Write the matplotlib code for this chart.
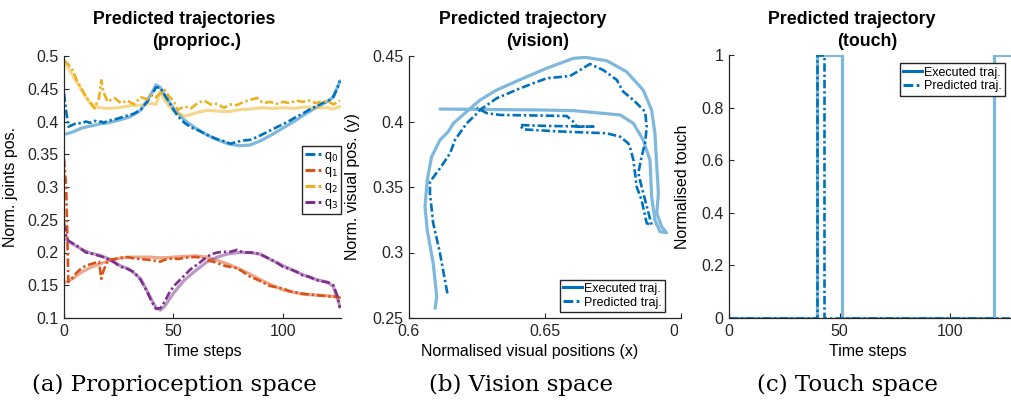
import numpy as np
import matplotlib.pyplot as plt
from matplotlib.lines import Line2D
from matplotlib.transforms import Bbox, TransformedBbox

plt.rcParams['font.family'] = ['Liberation Sans', 'DejaVu Sans']
plt.rcParams['font.size'] = 11.5
plt.rcParams['axes.edgecolor'] = '#262626'
plt.rcParams['xtick.color'] = '#262626'
plt.rcParams['ytick.color'] = '#262626'

# MATLAB default colours
blue = '#0072BD'
orange = '#D95319'
yellow = '#EDB120'
purple = '#7E2F8E'

# ---- proprioception (time steps) ----
t_pred = [0, 1, 2, 4, 6, 8, 10, 12, 14, 16, 17, 18, 20, 23, 26, 29, 32, 35, 38, 40,
          42, 44, 46, 48, 50, 52, 55, 58, 61, 64, 67, 70, 73, 76, 79, 82, 85, 88,
          91, 94, 97, 100, 103, 106, 109, 112, 115, 118, 121, 123, 125, 126]
t_exec = [1, 4, 8, 12, 16, 20, 25, 30, 35, 40, 42, 44, 46, 50, 55, 60, 65, 70, 75,
          80, 85, 90, 95, 100, 105, 110, 115, 120, 123, 126]

q0_pred = [0.443, 0.415, 0.392, 0.395, 0.398, 0.397, 0.400, 0.398, 0.401, 0.399, 0.400,
           0.398, 0.401, 0.403, 0.406, 0.409, 0.412, 0.418, 0.430, 0.440, 0.452, 0.452,
           0.440, 0.430, 0.418, 0.408, 0.398, 0.391, 0.387, 0.382, 0.377, 0.373, 0.370,
           0.366, 0.369, 0.371, 0.372, 0.376, 0.381, 0.386, 0.391, 0.396, 0.401, 0.407,
           0.412, 0.418, 0.423, 0.428, 0.432, 0.438, 0.452, 0.462]
q1_pred = [0.343, 0.300, 0.155, 0.162, 0.170, 0.176, 0.180, 0.182, 0.184, 0.186, 0.160,
           0.172, 0.188, 0.190, 0.192, 0.193, 0.191, 0.190, 0.189, 0.188, 0.187, 0.186,
           0.189, 0.190, 0.191, 0.190, 0.192, 0.193, 0.193, 0.190, 0.187, 0.184, 0.180,
           0.178, 0.176, 0.170, 0.163, 0.159, 0.154, 0.149, 0.147, 0.145, 0.141, 0.139,
           0.137, 0.136, 0.135, 0.134, 0.133, 0.133, 0.132, 0.130]
q2_pred = [0.493, 0.490, 0.487, 0.478, 0.462, 0.450, 0.438, 0.428, 0.420, 0.436, 0.463,
           0.445, 0.430, 0.436, 0.428, 0.432, 0.426, 0.437, 0.434, 0.440, 0.437, 0.443,
           0.448, 0.438, 0.432, 0.418, 0.423, 0.420, 0.428, 0.432, 0.426, 0.427, 0.421,
           0.426, 0.425, 0.430, 0.433, 0.436, 0.428, 0.430, 0.427, 0.430, 0.428, 0.432,
           0.430, 0.432, 0.428, 0.431, 0.430, 0.426, 0.430, 0.432]
q3_pred = [0.245, 0.225, 0.218, 0.214, 0.210, 0.205, 0.200, 0.199, 0.197, 0.195, 0.194,
           0.193, 0.190, 0.185, 0.178, 0.175, 0.170, 0.158, 0.140, 0.125, 0.114, 0.115,
           0.125, 0.138, 0.148, 0.155, 0.165, 0.175, 0.182, 0.190, 0.197, 0.200, 0.201,
           0.201, 0.204, 0.200, 0.200, 0.199, 0.195, 0.190, 0.185, 0.178, 0.175, 0.171,
           0.165, 0.163, 0.158, 0.156, 0.154, 0.150, 0.132, 0.115]

q0_exec = [0.381, 0.384, 0.390, 0.393, 0.396, 0.398, 0.402, 0.407, 0.417, 0.443, 0.456,
           0.452, 0.440, 0.420, 0.402, 0.390, 0.380, 0.372, 0.366, 0.363, 0.364, 0.371,
           0.380, 0.390, 0.400, 0.411, 0.421, 0.430, 0.437, 0.462]
q1_exec = [0.155, 0.160, 0.170, 0.177, 0.182, 0.187, 0.191, 0.193, 0.193, 0.193, 0.192,
           0.192, 0.192, 0.193, 0.194, 0.195, 0.193, 0.188, 0.182, 0.175, 0.167, 0.158,
           0.150, 0.143, 0.139, 0.136, 0.135, 0.134, 0.133, 0.131]
q2_exec = [0.487, 0.470, 0.448, 0.428, 0.421, 0.420, 0.421, 0.424, 0.425, 0.428, 0.426,
           0.446, 0.432, 0.416, 0.408, 0.413, 0.417, 0.416, 0.415, 0.418, 0.419, 0.421,
           0.420, 0.421, 0.420, 0.422, 0.421, 0.421, 0.419, 0.423]
q3_exec = [0.220, 0.213, 0.205, 0.199, 0.196, 0.191, 0.181, 0.174, 0.160, 0.128, 0.116,
           0.112, 0.118, 0.138, 0.158, 0.172, 0.185, 0.193, 0.198, 0.200, 0.200, 0.197,
           0.188, 0.180, 0.172, 0.165, 0.159, 0.155, 0.148, 0.118]

# ---- vision (x, y) ----
vis_exec_x = [0.6096, 0.6102, 0.6089, 0.6067, 0.6059, 0.6067, 0.6083, 0.6114, 0.6144,
              0.6163, 0.6212, 0.6261, 0.6322, 0.6420, 0.6506, 0.6604, 0.6647, 0.6727,
              0.6800, 0.6861, 0.6892, 0.6904, 0.6911, 0.6917, 0.6911, 0.6929, 0.6947,
              0.6923, 0.6904, 0.6892, 0.6886, 0.6861, 0.6825, 0.6776, 0.6604, 0.6482,
              0.6114]
vis_exec_y = [0.2574, 0.2663, 0.2918, 0.3172, 0.3350, 0.3553, 0.3731, 0.3859, 0.3922,
              0.3986, 0.4075, 0.4164, 0.4240, 0.4330, 0.4406, 0.4482, 0.4490, 0.4464,
              0.4380, 0.4240, 0.4088, 0.3912, 0.3655, 0.3452, 0.3299, 0.3197, 0.3151,
              0.3159, 0.3248, 0.3426, 0.3706, 0.3859, 0.3986, 0.4050, 0.4083, 0.4088,
              0.4095]
vis_pred_x = [0.6141, 0.6114, 0.6089, 0.6077, 0.6077, 0.6114, 0.6151, 0.6169, 0.6212,
              0.6249, 0.6261, 0.6322, 0.6408, 0.6506, 0.6592, 0.6629, 0.6665, 0.6714,
              0.6764, 0.6788, 0.6825, 0.6868, 0.6874, 0.6868, 0.6855, 0.6843, 0.6849,
              0.6868, 0.6892, 0.6874, 0.6855, 0.6837, 0.6825, 0.6812, 0.6806, 0.6776,
              0.6727, 0.6543, 0.6420, 0.6408, 0.6506, 0.6678, 0.6617, 0.6604, 0.6580,
              0.6335, 0.6286, 0.6249]
vis_pred_y = [0.2688, 0.2994, 0.3223, 0.3452, 0.3540, 0.3643, 0.3757, 0.3859, 0.3986,
              0.4060, 0.4088, 0.4177, 0.4253, 0.4330, 0.4347, 0.4393, 0.4439, 0.4393,
              0.4317, 0.4227, 0.4164, 0.4075, 0.3960, 0.3834, 0.3731, 0.3605, 0.3553,
              0.3401, 0.3210, 0.3223, 0.3401, 0.3502, 0.3706, 0.3808, 0.3834, 0.3884,
              0.3910, 0.3925, 0.3940, 0.3973, 0.3966, 0.3961, 0.3960, 0.3999, 0.4042,
              0.4050, 0.4063, 0.4106]

# ---- touch (step transitions) ----
touch_exec_t = [0, 40, 40, 51, 51, 120, 120, 128]
touch_exec_v = [0, 0, 1, 1, 0, 0, 1, 1]
touch_pred_t = [0, 40, 40, 43, 43, 128, 128]
touch_pred_v = [0, 0, 1, 1, 0, 0, 1]

W, H = 1012, 403
fig = plt.figure(figsize=(W / 100, H / 100), dpi=100)


def px_axes(l, r, top, bot):
    return fig.add_axes([l / W, 1 - bot / H, (r - l) / W, (bot - top) / H])


def style(ax):
    for s in ['top', 'right']:
        ax.spines[s].set_visible(False)
    for s in ['left', 'bottom']:
        ax.spines[s].set_linewidth(0.9)
    ax.tick_params(direction='in', length=3.5, width=0.8, labelsize=11.5, pad=4)


dash = (0, (3.2, 1.1, 0.9, 1.1))
lw_exec, lw_pred = 2.3, 1.9
leg_kw = dict(frameon=True, fancybox=False, framealpha=1, edgecolor='#262626',
              fontsize=9, borderaxespad=0, borderpad=0.25, labelspacing=0.15,
              handletextpad=0.2)

# panel (a)
ax1 = px_axes(64, 341, 56, 318)
style(ax1)
cols = [blue, orange, yellow, purple]
execs = [q0_exec, q1_exec, q2_exec, q3_exec]
preds = [q0_pred, q1_pred, q2_pred, q3_pred]
for c, e in zip(cols, execs):
    ax1.plot(t_exec, e, color=c, alpha=0.5, lw=lw_exec, solid_capstyle='round')
for c, p in zip(cols, preds):
    ax1.plot(t_pred, p, color=c, lw=lw_pred, linestyle=dash)
ax1.set_xlim(0, 126.5)
ax1.set_ylim(0.1, 0.5)
ax1.set_xticks([0, 50, 100])
ax1.set_yticks([0.1, 0.15, 0.2, 0.25, 0.3, 0.35, 0.4, 0.45, 0.5])
ax1.set_yticklabels(['0.1', '0.15', '0.2', '0.25', '0.3', '0.35', '0.4', '0.45', '0.5'])
ax1.set_xlabel('Time steps')
ax1.set_ylabel('Norm. joints pos.')
ax1.xaxis.set_label_coords(0.5, -0.1)
ax1.yaxis.set_label_coords(-0.166, 0.5)
h1 = [Line2D([], [], color=c, lw=lw_pred + 0.3, linestyle=dash) for c in cols]
ax1.legend(h1, ['q$_0$', 'q$_1$', 'q$_2$', 'q$_3$'], loc='upper right',
           bbox_to_anchor=(1.0, 0.655), handlelength=1.3, **leg_kw)

# panel (b)
ax2 = px_axes(409, 681, 56, 318)
style(ax2)
ax2.plot(vis_exec_x, vis_exec_y, color=blue, alpha=0.5, lw=lw_exec,
         solid_capstyle='round', solid_joinstyle='round')
ax2.plot(vis_pred_x, vis_pred_y, color=blue, lw=lw_pred, linestyle=dash)
ax2.set_xlim(0.6, 0.7)
ax2.set_ylim(0.25, 0.45)
ax2.set_xticks([0.6, 0.65, 0.7])
ax2.set_xticklabels(['0.6', '0.65', '0.7'])
ax2.set_yticks([0.25, 0.3, 0.35, 0.4, 0.45])
ax2.set_yticklabels(['0.25', '0.3', '0.35', '0.4', '0.45'])
ax2.set_xlabel('Normalised visual positions (x)')
ax2.set_ylabel('Norm. visual pos. (y)')
ax2.xaxis.set_label_coords(0.445, -0.1)
ax2.yaxis.set_label_coords(-0.18, 0.5)
h2 = [Line2D([], [], color=blue, lw=lw_pred + 0.3),
      Line2D([], [], color=blue, lw=lw_pred + 0.3, linestyle=dash)]
ax2.legend(h2, ['Executed traj.', 'Predicted traj.'], loc='lower right',
           bbox_to_anchor=(0.941, 0.024), handlelength=1.5, **leg_kw)
# the subfigure is cropped at its right border
crop = TransformedBbox(Bbox([[0, 0], [678.5 / W, 1]]), fig.transFigure)
for lab in ax2.get_xticklabels():
    lab.set_clip_box(crop)
    lab.set_clip_on(True)

# panel (c)
ax3 = px_axes(729, 1012, 55, 318)
style(ax3)
ax3.plot(touch_exec_t, touch_exec_v, color=blue, alpha=0.5, lw=lw_exec)
ax3.plot(touch_pred_t, touch_pred_v, color=blue, lw=lw_pred, linestyle=dash)
ax3.set_xlim(0, 128)
ax3.set_ylim(0, 1)
ax3.set_xticks([0, 50, 100])
ax3.set_yticks([0, 0.2, 0.4, 0.6, 0.8, 1])
ax3.set_yticklabels(['0', '0.2', '0.4', '0.6', '0.8', '1'])
ax3.set_xlabel('Time steps')
ax3.set_ylabel('Normalised touch')
ax3.xaxis.set_label_coords(0.49, -0.1)
ax3.yaxis.set_label_coords(-0.138, 0.5)
ax3.legend(h2, ['Executed traj.', 'Predicted traj.'], loc='upper right',
           bbox_to_anchor=(0.975, 0.968), handlelength=1.5, **leg_kw)

# titles (two lines each)
titles = [('Predicted trajectories', '(proprioc.)', 184, 197),
          ('Predicted trajectory', '(vision)', 523, 538),
          ('Predicted trajectory', '(touch)', 852, 867)]
for l1, l2, x1, x2 in titles:
    fig.text(x1 / W, 1 - 20 / H, l1, ha='center', va='center', fontsize=12.8,
             fontweight='bold')
    fig.text(x2 / W, 1 - 42 / H, l2, ha='center', va='center', fontsize=12.8,
             fontweight='bold')

# sub-captions
captions = [('(a) Proprioception space', 174), ('(b) Vision space', 521),
            ('(c) Touch space', 847)]
for txt, xc in captions:
    fig.text(xc / W, 1 - 385 / H, txt, ha='center', va='center',
             family='DejaVu Serif', fontsize=16.5)

fig.savefig('out.png', dpi=100)
